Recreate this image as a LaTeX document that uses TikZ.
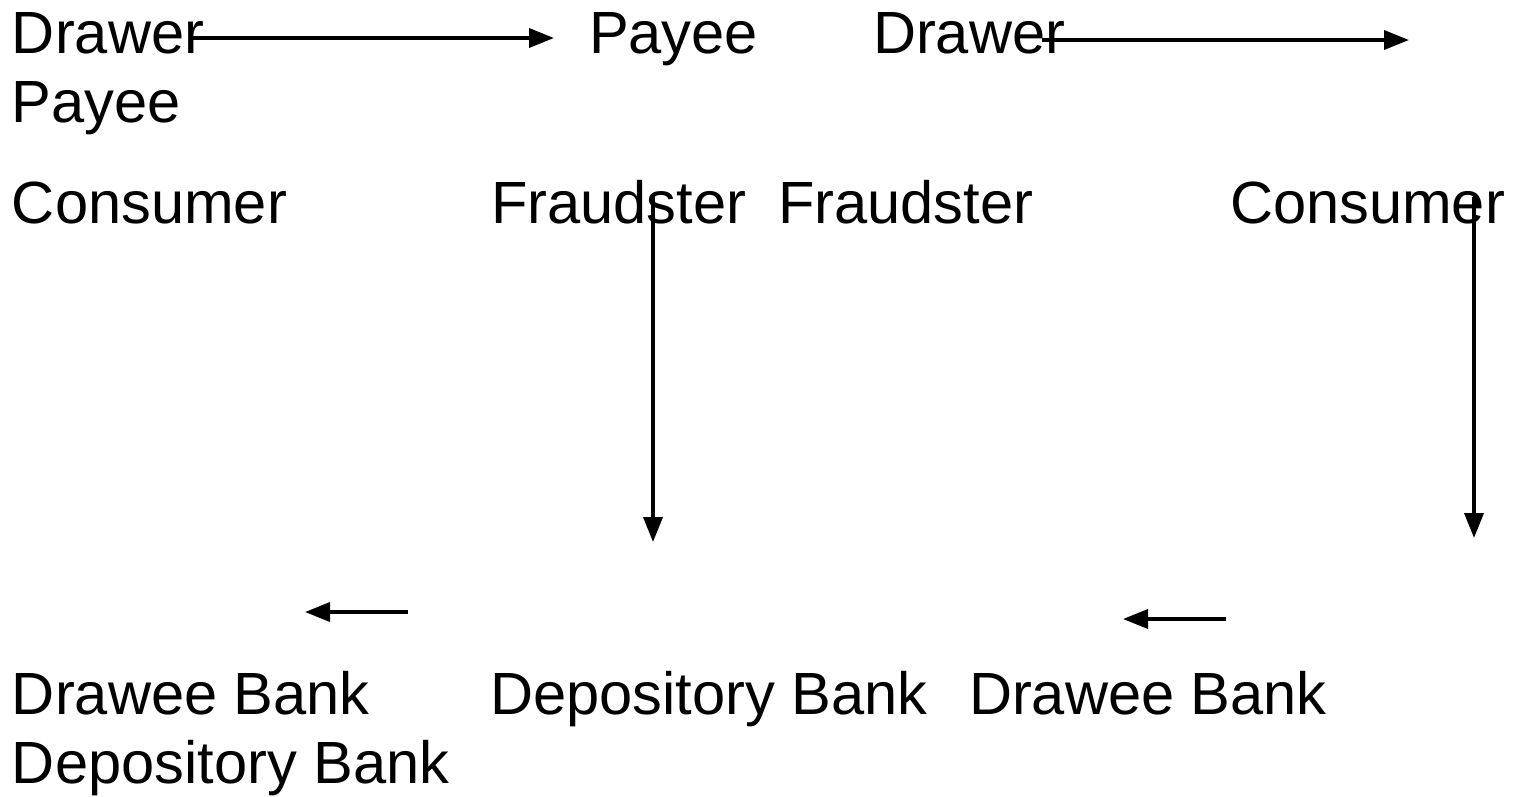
\documentclass[tikz,border=0pt]{standalone}
\usepackage{fontspec}
\setmainfont{Liberation Sans}
\usetikzlibrary{arrows.meta}
\begin{document}
\begin{tikzpicture}[x=1pt,y=-1pt,
  lbl/.style={anchor=base west,inner sep=0pt,outer sep=0pt,font=\fontsize{59.6}{69}\selectfont},
  flow/.style={line width=3.6pt,-{Triangle[length=25pt,width=19pt]}}]
\useasboundingbox (0,0) rectangle (1518,796);

% left scenario
\node[lbl] (drawerL)  at (12,53)  {Drawer};
\node[lbl] (payeeL)   at (12,122) {Payee};
\node[lbl] (consL)    at (12,223) {Consumer};
\node[lbl] (draweeL)  at (12,714) {Drawee Bank};
\node[lbl] (deposL)   at (12,783) {Depository Bank};

% middle labels
\node[lbl] (payeeM)   at (589,53)  {Payee};
\node[lbl] (fraudM)   at (491,223) {Fraudster};
\node[lbl] (deposM)   at (490,714) {Depository Bank};

% right scenario
\node[lbl] (drawerR)  at (873,53)  {Drawer};
\node[lbl] (fraudR)   at (778,223) {Fraudster};
\node[lbl] (consR)    at (1230,223) {Consumer};
\node[lbl] (draweeR)  at (969,714) {Drawee Bank};

% arrow end points
\coordinate (t1s) at (192,38);
\coordinate (t1e) at (554,38);
\coordinate (t2s) at (1042,40);
\coordinate (t2e) at (1409,40);
\coordinate (v1s) at (653,196);
\coordinate (v1e) at (653,542);
\coordinate (v2s) at (1474,197);
\coordinate (v2e) at (1474,538);
\coordinate (b1s) at (408,612);
\coordinate (b1e) at (305,612);
\coordinate (b2s) at (1226,619);
\coordinate (b2e) at (1123,619);

\draw[flow] (t1s) -- (t1e);
\draw[flow] (t2s) -- (t2e);
\draw[flow] (v1s) -- (v1e);
\draw[flow] (v2s) -- (v2e);
\draw[flow] (b1s) -- (b1e);
\draw[flow] (b2s) -- (b2e);
\end{tikzpicture}
\end{document}
